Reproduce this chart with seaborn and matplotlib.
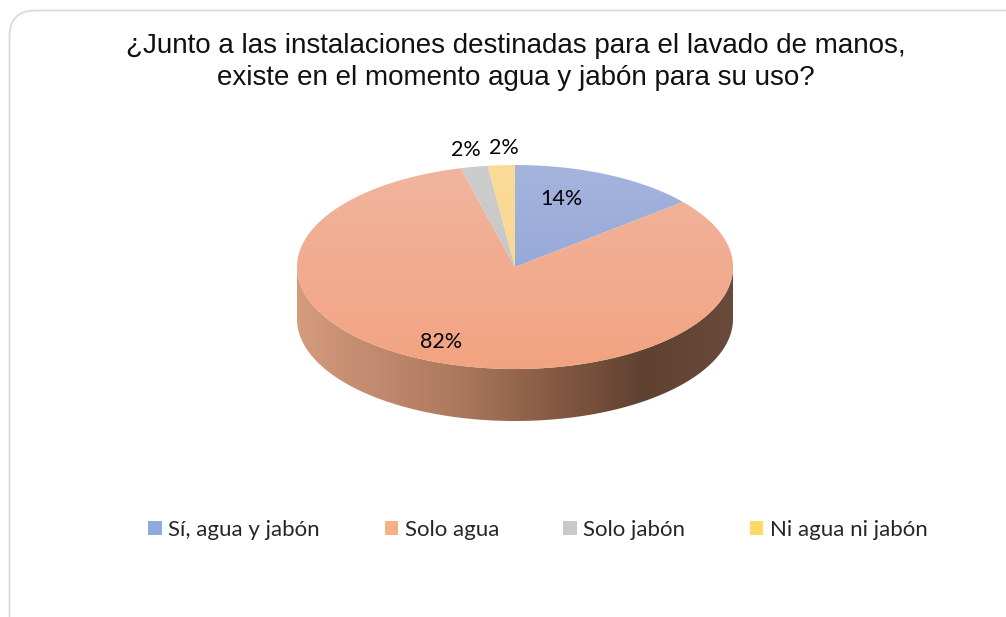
import numpy as np
import matplotlib
matplotlib.use("Agg")
import matplotlib.pyplot as plt
import seaborn as sns
from matplotlib.patches import Polygon, FancyBboxPatch, Patch
from matplotlib.colors import LinearSegmentedColormap

# Data
categories = ["Sí, agua y jabón", "Solo agua", "Solo jabón", "Ni agua ni jabón"]
values = [14, 82, 2, 2]
labels = ["14%", "82%", "2%", "2%"]
legend_colors = ["#8faadc", "#f4b183", "#c9c9c9", "#ffd966"]
top_colors = [("#a5b4dd", "#8a9fd6"), ("#f0b59e", "#f3a381"),
              ("#cdcdcd", "#c2c2c2"), ("#fadc98", "#f8d488")]
title = "¿Junto a las instalaciones destinadas para el lavado de manos,\nexiste en el momento agua y jabón para su uso?"

sns.set_theme(style="white")
plt.rcParams['font.family'] = ['Lato', 'DejaVu Sans']

fig = plt.figure(figsize=(10.06, 6.17), dpi=100)
ax = fig.add_axes([0, 0, 1, 1])
ax.set_xlim(0, 1006)
ax.set_ylim(617, 0)
ax.axis("off")

# frame
frame = FancyBboxPatch((9.5, 10.5), 1030, 640, boxstyle="round,pad=0,rounding_size=26",
                       fc="white", ec="#d9d9d9", lw=1.3, zorder=0)
ax.add_patch(frame)

# pie geometry (pixel space)
cx, cy, rx, ry, depth = 515, 267, 218, 102, 52

fracs = np.array(values) / np.sum(values)
ends = 90 - 360 * np.cumsum(fracs)
starts = np.concatenate([[90], ends[:-1]])

def ell(theta_deg, dy=0):
    t = np.radians(theta_deg)
    return cx + rx * np.cos(t), cy - ry * np.sin(t) + dy

# side (front half)
th = np.linspace(180, 360, 200)
xs, ys = ell(th)
xb, yb = ell(th[::-1], depth)
side_poly = Polygon(np.column_stack([np.concatenate([xs, xb]), np.concatenate([ys, yb])]),
                    closed=True, fc="none", ec="none")
ax.add_patch(side_poly)
side_cmap = LinearSegmentedColormap.from_list(
    "side", [(0, "#d49b7d"), (0.35, "#b07a5f"), (0.55, "#8c5f48"), (0.8, "#5f4131"), (1, "#6a4a3b")])
grad = np.linspace(0, 1, 256).reshape(1, -1)
im = ax.imshow(grad, cmap=side_cmap, extent=[cx - rx, cx + rx, cy + ry + depth, cy - 5],
               aspect="auto", zorder=1)
im.set_clip_path(side_poly)

# top face wedges with vertical gradient
vgrad = np.linspace(0, 1, 256).reshape(-1, 1)
for (s, e), (c1, c2) in zip(zip(starts, ends), top_colors):
    th = np.linspace(s, e, max(int(abs(s - e)), 2) * 2)
    px, py = ell(th)
    poly = Polygon(np.column_stack([np.concatenate([[cx], px]), np.concatenate([[cy], py])]),
                   closed=True, fc="none", ec="none", zorder=2)
    ax.add_patch(poly)
    cmap = LinearSegmentedColormap.from_list("t", [c1, c2])
    img = ax.imshow(vgrad, cmap=cmap, extent=[cx - rx, cx + rx, cy + ry, cy - ry],
                    aspect="auto", zorder=2)
    img.set_clip_path(poly)

# data labels (inside for big slices, outside for small ones)
nudge = [(-20, -2), (-25, 5), (0, 3), (5, 3)]
for s, e, lab, f, (nx, ny) in zip(starts, ends, labels, fracs, nudge):
    mid = (s + e) / 2
    k = 1.2 if f < 0.05 else 0.72
    lx, ly = ell(mid)
    lx = cx + (lx - cx) * k + nx
    ly = cy + (ly - cy) * k + ny
    ax.text(lx, ly, lab, ha="center", va="center", fontsize=15.5, color="#000000", zorder=3)

# title
ax.text(516, 62, title, ha="center", va="center", fontsize=20, color="#111111",
        family=["Liberation Sans", "DejaVu Sans"], linespacing=1.3)

# legend
handles = [Patch(fc=c, ec="none") for c in legend_colors]
leg = ax.legend(handles, categories, loc="center", bbox_to_anchor=(538 / 1006, 1 - 530 / 617),
                ncol=4, frameon=False, fontsize=16, handlelength=0.6, handleheight=0.6,
                handletextpad=0.3, columnspacing=2.9)

fig.savefig("out.png", dpi=100)
